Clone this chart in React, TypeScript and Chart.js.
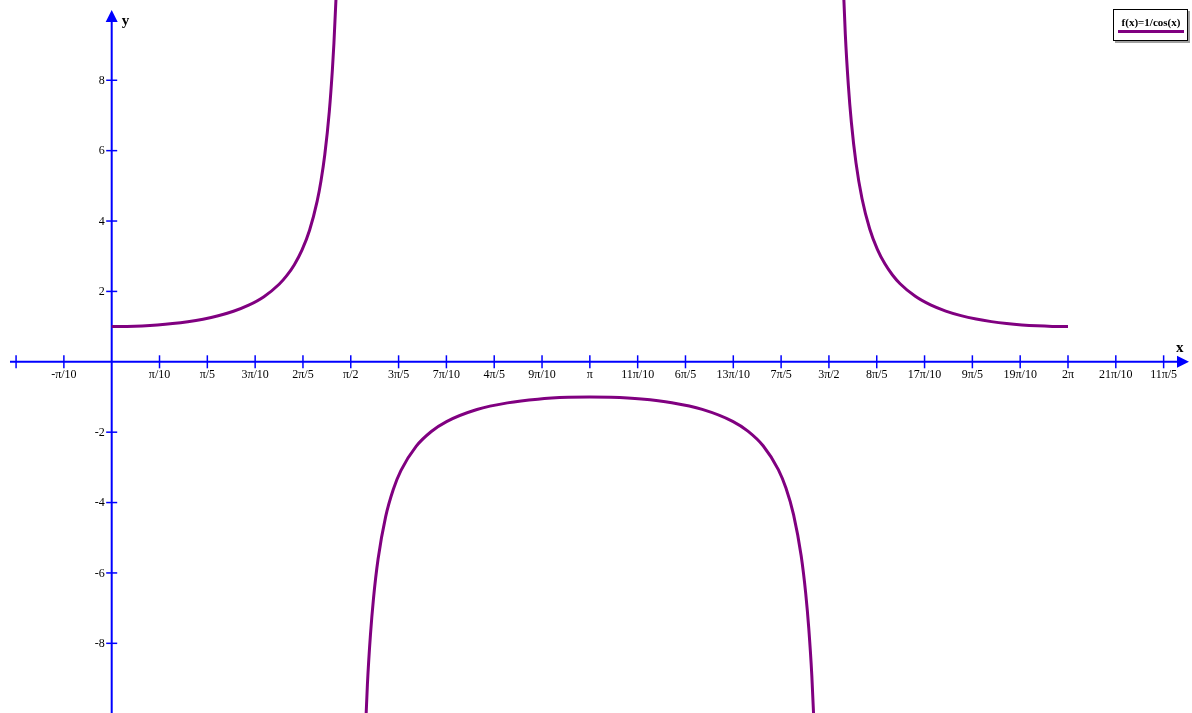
import React, { useEffect, useRef } from "react";
import { Chart, registerables } from "chart.js";

Chart.register(...registerables);

// Branch 1: 0 .. just past π/2
const branch1X = [0, 0.1, 0.2, 0.3, 0.4, 0.5, 0.6, 0.7, 0.8, 0.9, 1.0, 1.1, 1.15, 1.2, 1.25, 1.3, 1.35, 1.375, 1.4, 1.43, 1.45, 1.46, 1.474, 1.48];
const branch1Y = [1, 1.005, 1.0203, 1.0468, 1.0857, 1.1395, 1.2116, 1.3075, 1.4353, 1.6087, 1.8508, 2.2046, 2.448, 2.7597, 3.1714, 3.7383, 4.566, 5.14, 5.8835, 7.1262, 8.2988, 9.044, 10.347, 11.03];

// Branch 2: π/2 .. 3π/2 (negative)
const branch2X = [1.66, 1.68, 1.7, 1.72, 1.75, 1.8, 1.85, 1.9, 2.0, 2.1, 2.2, 2.4, 2.6, 2.8, 3.0, 3.1416, 3.28, 3.48, 3.68, 3.88, 4.08, 4.18, 4.28, 4.38, 4.43, 4.48, 4.53, 4.56, 4.58, 4.6, 4.62];
const branch2Y = [-11.23, -9.176, -7.762, -6.727, -5.61, -4.401, -3.629, -3.093, -2.403, -1.981, -1.699, -1.356, -1.167, -1.0613, -1.0101, -1, -1.0097, -1.0601, -1.1648, -1.352, -1.692, -1.97, -2.386, -3.064, -3.589, -4.342, -5.513, -6.587, -7.575, -8.916, -10.84];

// Branch 3: 3π/2 .. 2π
const branch3X = [4.8, 4.82, 4.84, 4.86, 4.89, 4.93, 4.98, 5.03, 5.08, 5.13, 5.18, 5.28, 5.38, 5.48, 5.58, 5.68, 5.78, 5.88, 5.98, 6.08, 6.18, 6.2832];
const branch3Y = [11.43, 9.312, 7.859, 6.8, 5.66, 4.632, 3.782, 3.202, 2.783, 2.466, 2.218, 1.86, 1.615, 1.44, 1.311, 1.2142, 1.1415, 1.0872, 1.0478, 1.021, 1.0053, 1];

// x ticks in multiples of π/10
const xTickSteps = [-2, -1, 1, 2, 3, 4, 5, 6, 7, 8, 9, 10, 11, 12, 13, 14, 15, 16, 17, 18, 19, 20, 21, 22];
const xTickLabels = ["", "-π/10", "π/10", "π/5", "3π/10", "2π/5", "π/2", "3π/5", "7π/10", "4π/5", "9π/10", "π", "11π/10", "6π/5", "13π/10", "7π/5", "3π/2", "8π/5", "17π/10", "9π/5", "19π/10", "2π", "21π/10", "11π/5"];

const yTickValues = [-8, -6, -4, -2, 2, 4, 6, 8];
const yTickLabels = ["-8", "-6", "-4", "-2", "2", "4", "6", "8"];

const legendLabel = "f(x)=1/cos(x)";
const curveColor = "#800080";
const axisColor = "#0000ff";

const toPoints = (xs: number[], ys: number[]) => xs.map((x, i) => ({ x, y: ys[i] }));

const axesPlugin = {
  id: "axesPlugin",
  beforeDatasetsDraw(chart: any) {
    const ctx = chart.ctx as CanvasRenderingContext2D;
    const xs = chart.scales.x;
    const ys = chart.scales.y;
    const x0 = xs.getPixelForValue(0);
    const y0 = ys.getPixelForValue(0);
    ctx.save();
    ctx.strokeStyle = axisColor;
    ctx.fillStyle = axisColor;
    // x axis
    ctx.lineWidth = 2;
    ctx.beginPath();
    ctx.moveTo(10, y0);
    ctx.lineTo(1180, y0);
    ctx.stroke();
    ctx.beginPath();
    ctx.moveTo(1189, y0);
    ctx.lineTo(1177, y0 - 6);
    ctx.lineTo(1177, y0 + 6);
    ctx.closePath();
    ctx.fill();
    // y axis
    ctx.beginPath();
    ctx.moveTo(x0, 20);
    ctx.lineTo(x0, 713);
    ctx.stroke();
    ctx.beginPath();
    ctx.moveTo(x0, 10);
    ctx.lineTo(x0 - 6, 22);
    ctx.lineTo(x0 + 6, 22);
    ctx.closePath();
    ctx.fill();
    // x ticks
    ctx.lineWidth = 1.5;
    ctx.font = "12px 'Liberation Serif', serif";
    ctx.textAlign = "center";
    ctx.textBaseline = "middle";
    xTickSteps.forEach((k, i) => {
      const px = xs.getPixelForValue((k * Math.PI) / 10);
      ctx.strokeStyle = axisColor;
      ctx.beginPath();
      ctx.moveTo(px, y0 - 6.5);
      ctx.lineTo(px, y0 + 6.5);
      ctx.stroke();
      if (xTickLabels[i]) {
        ctx.fillStyle = "#000";
        ctx.fillText(xTickLabels[i], px, y0 + 13.5);
      }
    });
    // y ticks
    ctx.textAlign = "right";
    yTickValues.forEach((v, i) => {
      const py = ys.getPixelForValue(v);
      ctx.strokeStyle = axisColor;
      ctx.beginPath();
      ctx.moveTo(x0 - 5.5, py);
      ctx.lineTo(x0 + 5.5, py);
      ctx.stroke();
      ctx.fillStyle = "#000";
      ctx.fillText(yTickLabels[i], x0 - 7, py + 0.5);
    });
    // axis names
    ctx.font = "bold 15px 'Liberation Serif', serif";
    ctx.textAlign = "left";
    ctx.textBaseline = "alphabetic";
    ctx.fillText("y", x0 + 10, 25);
    ctx.fillText("x", 1176, 352);
    ctx.restore();
  },
  afterDraw(chart: any) {
    const ctx = chart.ctx as CanvasRenderingContext2D;
    ctx.save();
    // legend box with shadow
    ctx.fillStyle = "#a0a0a0";
    ctx.fillRect(1115, 11, 75, 32);
    ctx.fillStyle = "#fff";
    ctx.fillRect(1113, 9, 75, 32);
    ctx.strokeStyle = "#000";
    ctx.lineWidth = 1;
    ctx.strokeRect(1113.5, 9.5, 74, 31);
    ctx.fillStyle = "#000";
    ctx.font = "bold 11px 'Liberation Serif', serif";
    ctx.textAlign = "center";
    ctx.textBaseline = "alphabetic";
    ctx.fillText(legendLabel, 1151, 26);
    ctx.strokeStyle = curveColor;
    ctx.lineWidth = 3;
    ctx.beginPath();
    ctx.moveTo(1118, 31.5);
    ctx.lineTo(1184, 31.5);
    ctx.stroke();
    ctx.restore();
  },
};

export default function App() {
  const canvasRef = useRef<HTMLCanvasElement | null>(null);

  useEffect(() => {
    if (!canvasRef.current) return;
    const ds = (xs: number[], ys: number[]) => ({
      label: legendLabel,
      data: toPoints(xs, ys),
      borderColor: curveColor,
      borderWidth: 3,
      pointRadius: 0,
      fill: false,
      cubicInterpolationMode: "monotone" as const,
      showLine: true,
    });
    const chart = new Chart(canvasRef.current, {
      type: "scatter",
      data: {
        datasets: [ds(branch1X, branch1Y), ds(branch2X, branch2Y), ds(branch3X, branch3Y)],
      },
      options: {
        animation: false,
        responsive: false,
        maintainAspectRatio: false,
        layout: { padding: 0 },
        plugins: { legend: { display: false }, tooltip: { enabled: false } },
        scales: {
          x: { type: "linear", min: -0.7339, max: 7.0979, display: false },
          y: { type: "linear", min: -9.98, max: 10.281, display: false },
        },
      },
      plugins: [axesPlugin],
    });
    return () => chart.destroy();
  }, []);

  return (
    <div style={{ position: "fixed", left: 0, top: 0, width: 1192, height: 713, background: "#fff" }}>
      <canvas ref={canvasRef} width={1192} height={713} style={{ display: "block" }} />
    </div>
  );
}
